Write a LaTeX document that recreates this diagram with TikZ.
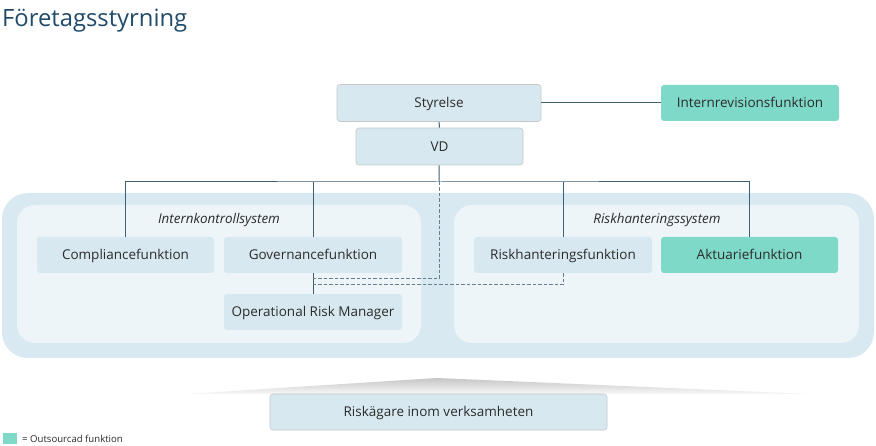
\documentclass[tikz,border=0pt]{standalone}
\usepackage{fontspec}
\setmainfont{Open Sans}
\usepackage{tikz}
\usetikzlibrary{shapes,arrows,positioning}
\definecolor{boxblue}{HTML}{D7E8F0}
\definecolor{outteal}{HTML}{7FD9C9}
\definecolor{outerbg}{HTML}{D8E9F1}
\definecolor{innerbg}{HTML}{EDF5F9}
\definecolor{linecol}{HTML}{3E5F74}
\definecolor{titlecol}{HTML}{1F4A6A}
\definecolor{txtcol}{HTML}{2B2B2B}
\tikzstyle{block} = [rectangle, fill=boxblue, text=txtcol, rounded corners=3pt,
    inner sep=0pt, text height=9.7pt, text depth=0pt,
    minimum width=178, minimum height=36, font=\fontsize{13.5}{16}\selectfont]
\tikzstyle{topblock} = [block, draw=black!22, line width=0.6pt]
\tikzstyle{outblock} = [block, fill=outteal]
\tikzstyle{syslabel} = [text=txtcol, text height=9.7pt, text depth=0pt, font=\fontsize{13.4}{16}\selectfont\itshape]
\tikzstyle{line} = [draw, linecol, line width=1pt]
\tikzstyle{dline} = [draw, linecol!80, line width=1pt, dash pattern=on 3.5pt off 2pt]

\begin{document}
\begin{tikzpicture}[x=1pt, y=-1pt]
    \useasboundingbox (0,0) rectangle (876,446);
    % Title
    \node [anchor=base west, text=titlecol, inner sep=0pt, font=\fontsize{23.8}{28}\selectfont] (title) at (2,27) {Företagsstyrning};

    % Background panels
    \fill [outerbg, rounded corners=26] (2,193) rectangle (874,358);
    \fill [innerbg, rounded corners=18] (17,205) rectangle (421,343);
    \fill [innerbg, rounded corners=18] (454,205) rectangle (859,343);
    \node [syslabel] (iks) at (219,219) {Internkontrollsystem};
    \node [syslabel] (rhs) at (657,219) {Riskhanteringssystem};

    % Place nodes
    \node [topblock, minimum width=204, minimum height=37] (styrelse) at (439,103) {Styrelse};
    \node [outblock] (internrev) at (750,103) {Internrevisionsfunktion};
    \node [topblock, minimum width=167, minimum height=37] (vd) at (439.5,146.5) {VD};
    \node [block, minimum width=177] (compliance) at (125.5,255) {Compliancefunktion};
    \node [block] (governance) at (313,255) {Governancefunktion};
    \node [block] (orm) at (313,312) {Operational Risk Manager};
    \node [block] (riskfunk) at (563,255) {Riskhanteringsfunktion};
    \node [outblock, minimum width=177] (aktuarie) at (749.5,255) {Aktuariefunktion};

    % Risk owners
    \shade [top color=gray!45, bottom color=gray!5] (185,394) -- (437,378) -- (810,394) -- cycle;
    \node [topblock, minimum width=337] (riskagare) at (438.5,412) {Riskägare inom verksamheten};

    % Legend
    \node [fill=outteal, inner sep=0pt, minimum width=14, minimum height=11] (legbox) at (10,438.5) {};
    \node [anchor=west, text=txtcol, inner sep=0pt, font=\fontsize{9.6}{11}\selectfont] (legtext) at (22,439) {= Outsourcad funktion};

    % Draw edges
    \coordinate (bus) at (439,182);
    \coordinate (govjoin) at (313,279);
    \coordinate (govjoin2) at (313,285);
    \path [line] (styrelse) -- (internrev);
    \path [line] (styrelse) -- (vd);
    \path [line] (vd) -- (bus);
    \path [line] (compliance.north) |- (bus) -| (aktuarie.north);
    \path [line] (governance.north) -- (governance.north |- bus);
    \path [line] (riskfunk.north) -- (riskfunk.north |- bus);
    \path [line] (governance) -- (orm);
    \path [dline] (bus) |- (govjoin);
    \path [dline] (riskfunk.south) |- (govjoin2);
\end{tikzpicture}
\end{document}
